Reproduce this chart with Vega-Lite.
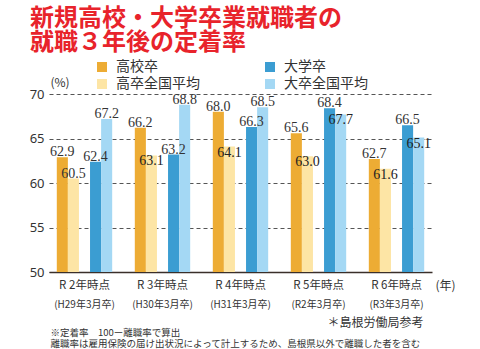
{
  "$schema": "https://vega.github.io/schema/vega-lite/v6.json",
  "width": 383,
  "height": 178,
  "autosize": {"type": "none"},
  "padding": {"left": 49, "top": 94, "right": 48, "bottom": 77},
  "background": "white",
  "config": {"view": {"stroke": null}, "font": "Noto Sans CJK JP"},
  "title": {
    "text": ["新規高校・大学卒業就職者の", "就職３年後の定着率"],
    "anchor": "start",
    "frame": "group",
    "dx": -19,
    "offset": 5,
    "fontSize": 24,
    "fontWeight": "bold",
    "color": "#E8232B",
    "lineHeight": 24.5,
    "font": "Noto Sans CJK JP"
  },
  "data": {
    "values": [
      {"group": "R 2年時点|(H29年3月卒)", "series": "高校卒", "rate": 62.9},
      {"group": "R 2年時点|(H29年3月卒)", "series": "高卒全国平均", "rate": 60.5},
      {"group": "R 2年時点|(H29年3月卒)", "series": "大学卒", "rate": 62.4},
      {"group": "R 2年時点|(H29年3月卒)", "series": "大卒全国平均", "rate": 67.2},
      {"group": "R 3年時点|(H30年3月卒)", "series": "高校卒", "rate": 66.2},
      {"group": "R 3年時点|(H30年3月卒)", "series": "高卒全国平均", "rate": 63.1},
      {"group": "R 3年時点|(H30年3月卒)", "series": "大学卒", "rate": 63.2},
      {"group": "R 3年時点|(H30年3月卒)", "series": "大卒全国平均", "rate": 68.8},
      {"group": "R 4年時点|(H31年3月卒)", "series": "高校卒", "rate": 68.0},
      {"group": "R 4年時点|(H31年3月卒)", "series": "高卒全国平均", "rate": 64.1},
      {"group": "R 4年時点|(H31年3月卒)", "series": "大学卒", "rate": 66.3},
      {"group": "R 4年時点|(H31年3月卒)", "series": "大卒全国平均", "rate": 68.5},
      {"group": "R 5年時点|(R2年3月卒)", "series": "高校卒", "rate": 65.6},
      {"group": "R 5年時点|(R2年3月卒)", "series": "高卒全国平均", "rate": 63.0},
      {"group": "R 5年時点|(R2年3月卒)", "series": "大学卒", "rate": 68.4},
      {"group": "R 5年時点|(R2年3月卒)", "series": "大卒全国平均", "rate": 67.7},
      {"group": "R 6年時点|(R3年3月卒)", "series": "高校卒", "rate": 62.7},
      {"group": "R 6年時点|(R3年3月卒)", "series": "高卒全国平均", "rate": 61.6},
      {"group": "R 6年時点|(R3年3月卒)", "series": "大学卒", "rate": 66.5},
      {"group": "R 6年時点|(R3年3月卒)", "series": "大卒全国平均", "rate": 65.1}
    ]
  },
  "layer": [
    {
      "mark": {"type": "bar"},
      "encoding": {
        "x": {
          "field": "group", "type": "nominal", "sort": null,
          "scale": {"paddingInner": 0.29, "paddingOuter": 0.1},
          "axis": {
            "orient": "bottom",
            "labelExpr": "split(datum.value, '|')[0]",
            "labelFontSize": 11.5, "labelColor": "#333", "labelPadding": 7,
            "labelAngle": 0, "ticks": false, "tickSize": 0,
            "domainColor": "#3a2f2a", "domainWidth": 1.5, "grid": false,
            "title": "(年)", "titleX": 386, "titleY": 13,
            "titleAlign": "left", "titleBaseline": "middle",
            "titleFontSize": 12, "titleFontWeight": "normal", "titleColor": "#333"
          }
        },
        "xOffset": {
          "field": "series", "type": "nominal",
          "scale": {"domain": ["高校卒", "高卒全国平均", " ", "大学卒", "大卒全国平均"], "paddingInner": 0, "paddingOuter": 0}
        },
        "y": {
          "field": "rate", "type": "quantitative",
          "scale": {"domain": [50, 70], "zero": false, "nice": false},
          "axis": {
            "values": [50, 55, 60, 65, 70],
            "title": "(%)", "titleAngle": 0, "titleX": 1, "titleY": -12,
            "titleAlign": "left", "titleBaseline": "middle",
            "titleFontSize": 12, "titleFontWeight": "normal", "titleColor": "#333",
            "labelFont": "Noto Sans", "labelFontSize": 13, "labelColor": "#333", "labelPadding": 5,
            "ticks": false, "domain": false,
            "grid": true, "gridDash": [4, 3], "gridColor": "#555", "gridWidth": 1
          }
        },
        "y2": {"datum": 50},
        "color": {
          "field": "series", "type": "nominal",
          "scale": {
            "domain": ["高校卒", "高卒全国平均", "大学卒", "大卒全国平均"],
            "range": ["#EDAC34", "#FDE5A5", "#3B9DD2", "#A4D8F4"]
          },
          "legend": {
            "orient": "none", "legendX": 46, "legendY": -34,
            "columns": 2, "columnPadding": 63, "rowPadding": 3,
            "title": null, "symbolType": "square", "symbolSize": 100,
            "symbolStrokeWidth": 0, "symbolOpacity": 1,
            "labelFontSize": 14, "labelColor": "#333", "labelOffset": 7,
            "labelFont": "Noto Sans CJK JP"
          }
        }
      }
    },
    {
      "transform": [
        {"filter": "!((datum.series === '高卒全国平均' && datum.group !== 'R 2年時点|(H29年3月卒)') || (datum.series === '大卒全国平均' && (datum.group === 'R 5年時点|(R2年3月卒)' || datum.group === 'R 6年時点|(R3年3月卒)')))"}
      ],
      "mark": {"type": "text", "baseline": "alphabetic", "dy": -1, "fontSize": 14, "font": "Liberation Sans Narrow", "color": "#333"},
      "encoding": {
        "x": {
          "field": "group", "type": "nominal", "sort": null,
          "axis": {
            "orient": "bottom",
            "labelExpr": "split(datum.value, '|')[1]",
            "labelFontSize": 10, "labelColor": "#333", "labelPadding": 27,
            "labelAngle": 0, "ticks": false, "tickSize": 0,
            "domain": false, "grid": false,
            "title": ["※定着率　100ー離職率で算出", "　離職率は雇用保険の届け出状況によって計上するため、島根県以外で離職した者を含む"],
            "titleX": 1, "titleY": 55, "titleAlign": "left", "titleBaseline": "top",
            "titleFontSize": 9.5, "titleFontWeight": "normal", "titleLineHeight": 11.5, "titleColor": "#333"
          }
        },
        "xOffset": {"field": "series", "type": "nominal"},
        "y": {
          "field": "rate", "type": "quantitative",
          "axis": {
            "orient": "right", "labels": false, "ticks": false, "domain": false, "grid": false,
            "title": "＊島根労働局参考", "titleAngle": 0, "titleX": -9, "titleY": 228,
            "titleAlign": "right", "titleBaseline": "middle",
            "titleFontSize": 12, "titleFontWeight": "normal", "titleColor": "#333"
          }
        },
        "text": {"field": "rate", "type": "quantitative", "format": ".1f"}
      }
    },
    {
      "transform": [
        {"filter": "(datum.series === '高卒全国平均' && datum.group !== 'R 2年時点|(H29年3月卒)') || (datum.series === '大卒全国平均' && (datum.group === 'R 5年時点|(R2年3月卒)' || datum.group === 'R 6年時点|(R3年3月卒)'))"}
      ],
      "mark": {"type": "text", "baseline": "top", "dy": -1, "fontSize": 14, "font": "Liberation Sans Narrow", "color": "#222"},
      "encoding": {
        "x": {"field": "group", "type": "nominal", "sort": null, "axis": null},
        "xOffset": {"field": "series", "type": "nominal"},
        "y": {"field": "rate", "type": "quantitative", "axis": null},
        "text": {"field": "rate", "type": "quantitative", "format": ".1f"}
      }
    }
  ],
  "resolve": {"axis": {"x": "independent", "y": "independent"}}
}
